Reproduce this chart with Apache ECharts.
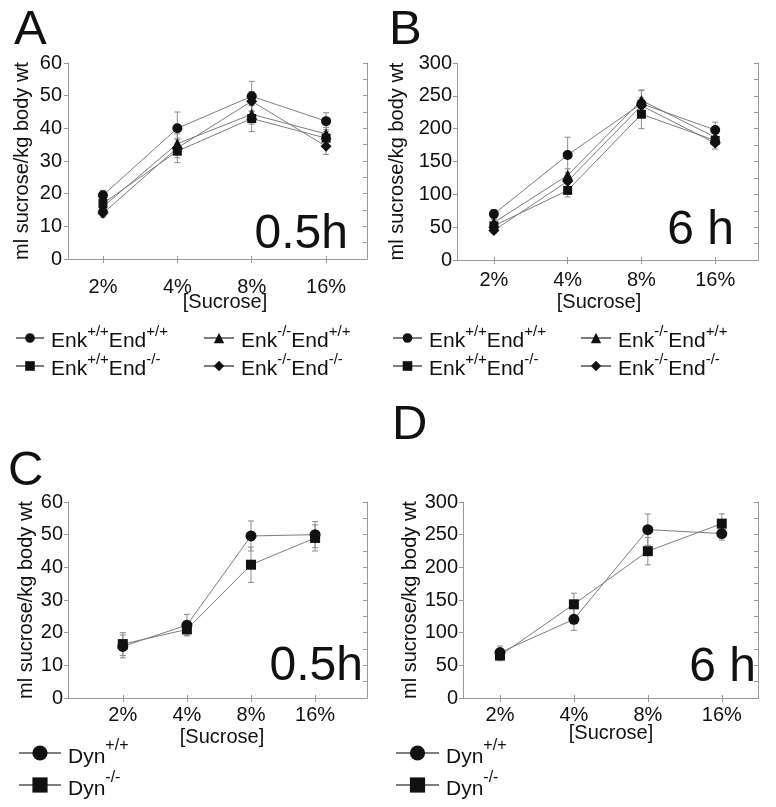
<!DOCTYPE html>
<html>
<head>
<meta charset="utf-8">
<script src="https://cdn.jsdelivr.net/npm/echarts@6/dist/echarts.min.js"></script>
<style>
html,body{margin:0;padding:0;background:#fff;}
#chart{width:776px;height:807px;}
</style>
</head>
<body>
<div id="chart"></div>
<script>
// ---------- DATA ----------
const categories = ['2%', '4%', '8%', '16%'];

// Panel A (0.5 h) – Enk / End genotypes
const A_enkWT_endWT = [19.5, 40.0, 49.8, 42.2];
const A_enkWT_endWT_err = [1.5, 5.0, 4.6, 2.6];
const A_enkWT_endKO = [17.0, 33.0, 43.0, 37.0];
const A_enkWT_endKO_err = [1.5, 3.5, 4.0, 2.0];
const A_enkKO_endWT = [16.0, 35.3, 44.3, 38.3];
const A_enkKO_endWT_err = [1.5, 3.0, 3.0, 2.0];
const A_enkKO_endKO = [14.0, 34.0, 48.3, 34.5];
const A_enkKO_endKO_err = [1.2, 3.0, 3.0, 2.5];

// Panel B (6 h)
const B_enkWT_endWT = [70, 160, 238, 198];
const B_enkWT_endWT_err = [7, 27, 20, 12];
const B_enkWT_endKO = [52, 106, 222, 182];
const B_enkWT_endKO_err = [5, 10, 22, 8];
const B_enkKO_endWT = [57, 129, 243, 187];
const B_enkKO_endWT_err = [5, 10, 16, 8];
const B_enkKO_endKO = [45, 120, 235, 178];
const B_enkKO_endKO_err = [4, 8, 12, 9];

// Panel C (0.5 h) – Dyn
const C_dynWT = [15.8, 22.3, 49.6, 50.0];
const C_dynWT_err = [3.5, 3.3, 4.6, 4.0];
const C_dynKO = [16.5, 21.0, 40.8, 49.0];
const C_dynKO_err = [3.5, 1.8, 5.4, 4.0];

// Panel D (6 h) – Dyn
const D_dynWT = [69.6, 120.5, 257.7, 251.7];
const D_dynWT_err = [10, 17, 24, 10];
const D_dynKO = [65.0, 143.4, 224.7, 266.9];
const D_dynKO_err = [8, 17, 21, 15];

// Tick settings
const yMaxSmall = 60, yStepSmall = 10, yMinorSmall = 5;
const yMaxBig = 300, yStepBig = 50, yMinorBig = 25;

// Names
const N1 = 'Enk+/+End+/+', N2 = 'Enk+/+End-/-', N3 = 'Enk-/-End+/+', N4 = 'Enk-/-End-/-';
const ND1 = 'Dyn+/+', ND2 = 'Dyn-/-';

// ---------- STYLE / LAYOUT ----------
const FONT = '"Liberation Sans", Arial, sans-serif';
const FRAME = '#9a9a9a';
const LINE = '#7d7d7d';
const MARK = '#111';
const TXT = '#111';

const grids = [
  {left: 68, top: 63, width: 299, height: 196},
  {left: 457, top: 63, width: 301, height: 197},
  {left: 68, top: 502, width: 299, height: 196},
  {left: 463, top: 502, width: 295, height: 196}
];
const xRange = [[0.53, 4.55], [0.5, 4.58], [0.145, 4.81], [0.5, 4.49]];
const yCfg = [
  {max: yMaxSmall, step: yStepSmall, minor: yMinorSmall, gap: 36, lblMargin: 6, xLblMargin: 18},
  {max: yMaxBig, step: yStepBig, minor: yMinorBig, gap: 50, lblMargin: 5, xLblMargin: 10},
  {max: yMaxSmall, step: yStepSmall, minor: yMinorSmall, gap: 29, lblMargin: 5, xLblMargin: 7},
  {max: yMaxBig, step: yStepBig, minor: yMinorBig, gap: 43, lblMargin: 5, xLblMargin: 7}
];
const ticks = [1, 2, 3, 4];

const xAxes = [], yAxes = [];
grids.forEach((g, gi) => {
  xAxes.push({
    type: 'value', gridIndex: gi, position: 'bottom', min: xRange[gi][0], max: xRange[gi][1],
    axisLine: {show: true, lineStyle: {color: FRAME, width: 1}},
    axisTick: {show: true, inside: true, length: 3, customValues: ticks, lineStyle: {color: FRAME}},
    axisLabel: {show: true, customValues: ticks, margin: yCfg[gi].xLblMargin,
      formatter: v => categories[Math.round(v) - 1] || '',
      fontSize: 20, fontFamily: FONT, color: TXT},
    splitLine: {show: false}
  });
  xAxes.push({
    type: 'value', gridIndex: gi, position: 'top', min: xRange[gi][0], max: xRange[gi][1],
    axisLine: {show: true, lineStyle: {color: FRAME, width: 1}},
    axisTick: {show: true, inside: true, length: 4, customValues: ticks, lineStyle: {color: FRAME}},
    axisLabel: {show: false}, splitLine: {show: false}
  });
  const c = yCfg[gi];
  yAxes.push({
    type: 'value', gridIndex: gi, position: 'left', min: 0, max: c.max, interval: c.step,
    name: 'ml sucrose/kg body wt', nameLocation: 'middle', nameRotate: 90, nameGap: c.gap,
    nameTextStyle: {fontSize: 20, fontFamily: FONT, color: TXT},
    axisLine: {show: true, lineStyle: {color: FRAME, width: 1}},
    axisTick: {show: true, inside: false, length: 4, lineStyle: {color: FRAME}},
    axisLabel: {margin: c.lblMargin, fontSize: 20, fontFamily: FONT, color: TXT},
    splitLine: {show: false}
  });
  yAxes.push({
    type: 'value', gridIndex: gi, position: 'right', min: 0, max: c.max, interval: c.minor,
    axisLine: {show: true, lineStyle: {color: FRAME, width: 1}},
    axisTick: {show: true, inside: true, length: 4, lineStyle: {color: FRAME}},
    axisLabel: {show: false}, splitLine: {show: false}
  });
});

function lineSeries(name, vals, sym, size, gi) {
  return {
    type: 'line', name: name, xAxisIndex: gi * 2, yAxisIndex: gi * 2,
    data: vals.map((v, i) => [i + 1, v]),
    symbol: sym, symbolSize: size, showAllSymbol: true,
    lineStyle: {color: LINE, width: 1},
    itemStyle: {color: MARK, borderWidth: 0},
    z: 4, animation: false, silent: true
  };
}
function errSeries(vals, errs, gi) {
  return {
    type: 'custom', xAxisIndex: gi * 2, yAxisIndex: gi * 2, z: 2, silent: true, animation: false,
    data: vals.map((v, i) => [i + 1, v, errs[i]]),
    renderItem: function (params, api) {
      const x = api.value(0), y = api.value(1), e = api.value(2);
      const t = api.coord([x, y + e]), b = api.coord([x, y - e]);
      const w = 3, st = {stroke: '#8c8c8c', lineWidth: 1};
      return {type: 'group', children: [
        {type: 'line', shape: {x1: t[0], y1: t[1], x2: b[0], y2: b[1]}, style: st},
        {type: 'line', shape: {x1: t[0] - w, y1: t[1], x2: t[0] + w, y2: t[1]}, style: st},
        {type: 'line', shape: {x1: b[0] - w, y1: b[1], x2: b[0] + w, y2: b[1]}, style: st}
      ]};
    }
  };
}

const series = [
  errSeries(A_enkWT_endWT, A_enkWT_endWT_err, 0),
  errSeries(A_enkWT_endKO, A_enkWT_endKO_err, 0),
  errSeries(A_enkKO_endWT, A_enkKO_endWT_err, 0),
  errSeries(A_enkKO_endKO, A_enkKO_endKO_err, 0),
  lineSeries(N1, A_enkWT_endWT, 'circle', 10, 0),
  lineSeries(N2, A_enkWT_endKO, 'rect', 9, 0),
  lineSeries(N3, A_enkKO_endWT, 'triangle', 11, 0),
  lineSeries(N4, A_enkKO_endKO, 'diamond', 11, 0),

  errSeries(B_enkWT_endWT, B_enkWT_endWT_err, 1),
  errSeries(B_enkWT_endKO, B_enkWT_endKO_err, 1),
  errSeries(B_enkKO_endWT, B_enkKO_endWT_err, 1),
  errSeries(B_enkKO_endKO, B_enkKO_endKO_err, 1),
  lineSeries(N1, B_enkWT_endWT, 'circle', 10, 1),
  lineSeries(N2, B_enkWT_endKO, 'rect', 9, 1),
  lineSeries(N3, B_enkKO_endWT, 'triangle', 11, 1),
  lineSeries(N4, B_enkKO_endKO, 'diamond', 11, 1),

  errSeries(C_dynWT, C_dynWT_err, 2),
  errSeries(C_dynKO, C_dynKO_err, 2),
  lineSeries(ND1, C_dynWT, 'circle', 11, 2),
  lineSeries(ND2, C_dynKO, 'rect', 10, 2),

  errSeries(D_dynWT, D_dynWT_err, 3),
  errSeries(D_dynKO, D_dynKO_err, 3),
  lineSeries(ND1, D_dynWT, 'circle', 11, 3),
  lineSeries(ND2, D_dynKO, 'rect', 10, 3)
];

// legend label formatting with superscripts
function richName(name) {
  const parts = name.match(/([A-Za-z]+)([+\-\/]+)/g);
  return parts.map(p => {
    const m = p.match(/([A-Za-z]+)([+\-\/]+)/);
    return '{b|' + m[1] + '}{s|' + m[2] + '}';
  }).join('');
}
function legend(names, left, top, iw, ih, gap, big) {
  return {
    data: names, orient: 'vertical', left: left, top: top, padding: 0,
    itemWidth: iw, itemHeight: ih, itemGap: gap, selectedMode: false,
    formatter: richName,
    textStyle: {
      color: TXT, fontFamily: FONT, padding: [0, 0, 0, 2],
      rich: {
        b: {fontSize: big ? 21 : 21, fontFamily: FONT, color: TXT, lineHeight: big ? 30 : 28, verticalAlign: 'bottom'},
        s: {fontSize: big ? 16 : 15, fontFamily: FONT, color: TXT, lineHeight: 12, verticalAlign: 'top'}
      }
    }
  };
}

const legends = [
  legend([N1, N2], 15, 324, 28, 12, 0, false),
  legend([N3, N4], 203, 324, 30, 13, 0, false),
  legend([N1, N2], 392, 324, 29, 12, 0, false),
  legend([N3, N4], 580, 324, 30, 13, 0, false),
  legend([ND1, ND2], 18, 738, 42, 19, 2, true),
  legend([ND1, ND2], 395, 738, 43, 19, 2, true)
];

function txt(text, x, y, size, align) {
  return {type: 'text', x: x, y: y, silent: true, z: 10,
    style: {text: text, fontSize: size, fontFamily: FONT, fill: TXT, align: align, verticalAlign: 'middle'}};
}
const graphics = [
  txt('A', 14, 30, 49, 'left'),
  txt('B', 389, 30, 49, 'left'),
  txt('C', 8, 471, 49, 'left'),
  txt('D', 392, 425, 49, 'left'),
  txt('0.5h', 348, 235, 48, 'right'),
  txt('6 h', 734, 231, 48, 'right'),
  txt('0.5h', 363, 667, 48, 'right'),
  txt('6 h', 756, 668, 48, 'right'),
  txt('[Sucrose]', 225, 302, 20, 'center'),
  txt('[Sucrose]', 599, 302, 20, 'center'),
  txt('[Sucrose]', 222, 737, 20, 'center'),
  txt('[Sucrose]', 611, 733, 20, 'center')
];

const chart = echarts.init(document.getElementById('chart'), null, {renderer: 'canvas'});
chart.setOption({
  backgroundColor: '#fff',
  animation: false,
  grid: grids,
  xAxis: xAxes,
  yAxis: yAxes,
  legend: legends,
  series: series,
  graphic: graphics
});
</script>
</body>
</html>
